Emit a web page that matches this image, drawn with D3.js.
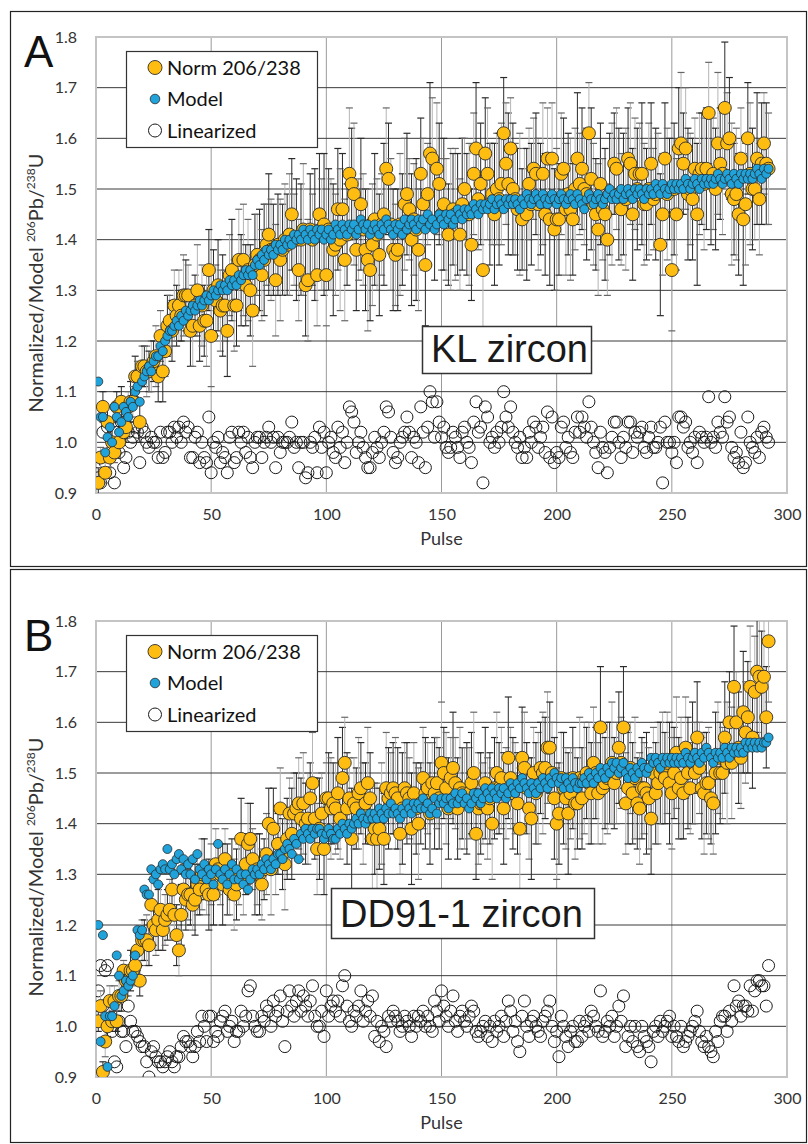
<!DOCTYPE html>
<html><head><meta charset="utf-8">
<script src="https://cdn.jsdelivr.net/npm/d3@7"></script>
<style>body{margin:0;background:#fff} svg{display:block}</style>
</head><body>
<svg id="c" width="808" height="1144"></svg>
<script>
// ---------- DATA ----------
const pulse = d3.range(1, 293); // pulse numbers 1..292
const xTicks = [0, 50, 100, 150, 200, 250, 300];
const yTicks = [0.9, 1.0, 1.1, 1.2, 1.3, 1.4, 1.5, 1.6, 1.7, 1.8];
const legendLabels = ["Norm 206/238", "Model", "Linearized"];

// Panel A: KL zircon
const klModel = [
1.12,1.05,1.05,0.98,1.01,1.03,1.00,1.07,1.05,1.02,
1.04,1.07,1.06,1.05,1.08,1.07,1.10,1.11,1.08,1.12,
1.13,1.14,1.15,1.14,1.16,1.17,1.17,1.19,1.18,1.20,
1.21,1.22,1.22,1.23,1.24,1.23,1.25,1.24,1.26,1.25,
1.26,1.27,1.26,1.27,1.28,1.27,1.28,1.29,1.28,1.29,
1.30,1.29,1.30,1.31,1.30,1.31,1.30,1.32,1.31,1.32,
1.31,1.33,1.32,1.33,1.34,1.33,1.34,1.33,1.35,1.36,
1.35,1.37,1.36,1.38,1.37,1.38,1.37,1.39,1.38,1.39,
1.38,1.40,1.39,1.40,1.39,1.41,1.40,1.41,1.40,1.42,
1.41,1.40,1.42,1.41,1.40,1.42,1.41,1.42,1.40,1.41,
1.42,1.40,1.41,1.43,1.42,1.41,1.43,1.42,1.41,1.43,
1.42,1.43,1.41,1.42,1.44,1.43,1.42,1.43,1.41,1.42,
1.43,1.42,1.41,1.43,1.42,1.44,1.43,1.42,1.41,1.43,
1.42,1.43,1.41,1.44,1.42,1.43,1.44,1.43,1.42,1.44,
1.43,1.44,1.42,1.45,1.43,1.44,1.42,1.43,1.45,1.44,
1.43,1.45,1.44,1.45,1.43,1.44,1.46,1.45,1.44,1.46,
1.45,1.46,1.45,1.47,1.46,1.45,1.47,1.46,1.47,1.46,
1.47,1.48,1.46,1.47,1.48,1.47,1.46,1.48,1.47,1.48,
1.47,1.48,1.47,1.46,1.48,1.47,1.49,1.48,1.47,1.48,
1.49,1.48,1.47,1.49,1.48,1.47,1.48,1.49,1.48,1.47,
1.48,1.49,1.48,1.47,1.48,1.49,1.48,1.47,1.49,1.48,
1.47,1.46,1.48,1.49,1.48,1.47,1.48,1.49,1.48,1.47,
1.48,1.49,1.50,1.48,1.49,1.48,1.49,1.50,1.48,1.49,
1.50,1.49,1.48,1.50,1.49,1.50,1.49,1.48,1.50,1.49,
1.50,1.49,1.51,1.50,1.49,1.51,1.50,1.49,1.50,1.51,
1.50,1.51,1.50,1.51,1.50,1.52,1.51,1.50,1.51,1.52,
1.51,1.50,1.52,1.51,1.52,1.51,1.52,1.51,1.52,1.53,
1.52,1.51,1.52,1.53,1.52,1.51,1.53,1.52,1.51,1.53,
1.52,1.53,1.52,1.53,1.52,1.53,1.54,1.53,1.52,1.54,
1.53,1.54];
const klLin = [
0.93,0.92,1.02,0.96,1.03,0.94,1.00,0.92,1.02,0.98,
1.04,0.95,0.97,1.02,1.00,1.01,1.03,1.02,0.96,1.03,
1.02,1.00,0.99,1.01,1.00,1.00,0.97,1.02,0.97,0.98,
1.02,1.02,1.00,1.03,1.01,1.03,1.00,1.04,1.02,1.03,
0.97,0.97,1.01,1.02,0.96,1.00,0.97,0.96,1.05,0.94,
1.00,0.99,1.01,0.96,0.98,0.97,0.94,1.01,1.02,0.96,
0.97,1.02,1.00,1.02,0.98,1.01,0.97,0.95,1.00,1.01,
1.01,0.97,1.00,1.01,1.03,1.00,1.01,0.95,1.01,0.98,
1.00,1.00,1.00,1.01,1.04,0.99,1.00,0.95,1.00,1.00,
0.93,0.94,1.00,0.99,1.01,0.94,1.03,0.99,1.02,0.94,
1.00,1.01,0.98,0.97,1.03,0.99,1.02,0.96,1.00,1.07,
1.06,1.04,0.98,1.00,1.02,0.99,0.97,0.95,0.95,0.98,
1.01,0.99,0.97,1.00,1.02,1.07,1.06,1.01,0.98,0.96,
0.97,1.00,1.01,1.02,1.05,1.02,0.97,1.01,1.00,0.96,
1.07,1.02,0.95,1.03,1.10,1.08,1.01,1.08,1.04,1.01,
1.03,0.99,0.98,0.99,1.02,1.01,0.99,0.97,1.02,1.03,
1.00,0.99,0.96,1.04,1.08,1.02,1.03,0.92,1.07,1.05,
1.00,1.01,0.99,1.02,1.00,1.03,1.10,1.05,1.03,1.07,
1.02,1.00,0.99,1.01,0.97,0.99,0.97,1.02,1.00,1.04,
1.03,0.99,1.01,1.03,0.98,1.06,0.97,1.05,0.96,0.98,
0.97,1.03,1.04,0.99,1.01,0.98,0.97,1.02,1.05,1.02,
1.05,1.03,1.01,1.08,1.03,1.00,0.98,0.95,1.02,0.99,
0.98,0.94,0.99,1.01,1.04,1.04,1.00,0.97,1.01,0.99,
1.04,1.04,0.98,1.02,1.01,1.02,1.03,0.99,0.98,1.01,
1.03,0.99,0.99,1.00,1.03,0.92,1.04,1.00,1.00,0.98,
1.00,0.96,1.05,1.05,1.03,1.04,0.99,1.00,0.98,1.01,
0.96,1.02,1.01,1.00,1.01,1.09,1.00,1.01,0.99,1.04,
1.02,1.01,1.09,1.04,1.05,0.99,0.97,0.98,0.96,1.02,
0.95,0.96,1.05,1.00,0.99,0.98,1.01,0.97,1.02,1.03,
1.01,1.00];
const klNorm = [
0.92,0.97,1.07,0.94,1.04,0.97,1.00,0.98,1.07,1.00,
1.08,1.02,1.03,1.07,1.08,1.08,1.13,1.13,1.04,1.15,
1.15,1.14,1.14,1.15,1.16,1.17,1.13,1.21,1.14,1.18,
1.23,1.24,1.22,1.27,1.25,1.27,1.25,1.29,1.29,1.29,
1.22,1.23,1.27,1.30,1.23,1.27,1.24,1.24,1.34,1.21,
1.30,1.28,1.31,1.26,1.27,1.27,1.22,1.33,1.34,1.27,
1.27,1.36,1.32,1.36,1.31,1.34,1.30,1.26,1.35,1.37,
1.36,1.33,1.36,1.39,1.41,1.38,1.38,1.32,1.39,1.36,
1.38,1.40,1.39,1.41,1.45,1.40,1.40,1.34,1.40,1.42,
1.31,1.32,1.42,1.40,1.41,1.33,1.45,1.41,1.43,1.33,
1.42,1.41,1.38,1.39,1.46,1.40,1.46,1.36,1.41,1.53,
1.51,1.49,1.38,1.42,1.47,1.42,1.38,1.36,1.34,1.39,
1.44,1.41,1.37,1.43,1.45,1.54,1.52,1.43,1.38,1.37,
1.38,1.43,1.42,1.47,1.49,1.46,1.40,1.44,1.42,1.38,
1.53,1.47,1.35,1.49,1.57,1.56,1.43,1.54,1.51,1.45,
1.47,1.44,1.41,1.44,1.46,1.45,1.45,1.41,1.47,1.50,
1.45,1.45,1.39,1.53,1.58,1.48,1.51,1.34,1.57,1.53,
1.47,1.49,1.45,1.50,1.48,1.51,1.61,1.55,1.51,1.58,
1.50,1.48,1.46,1.47,1.44,1.46,1.45,1.51,1.47,1.54,
1.53,1.47,1.48,1.53,1.45,1.56,1.44,1.56,1.42,1.44,
1.44,1.53,1.54,1.46,1.49,1.46,1.44,1.50,1.56,1.51,
1.54,1.50,1.49,1.61,1.52,1.47,1.45,1.42,1.51,1.46,
1.45,1.40,1.49,1.49,1.55,1.54,1.49,1.46,1.49,1.48,
1.56,1.55,1.45,1.53,1.50,1.53,1.53,1.47,1.47,1.50,
1.55,1.48,1.49,1.50,1.39,1.45,1.56,1.49,1.50,1.34,
1.50,1.45,1.58,1.59,1.55,1.58,1.49,1.50,1.48,1.54,
1.45,1.53,1.54,1.51,1.54,1.65,1.52,1.53,1.50,1.59,
1.55,1.53,1.66,1.59,1.60,1.49,1.48,1.49,1.45,1.56,
1.44,1.47,1.60,1.53,1.50,1.50,1.56,1.48,1.55,1.59,
1.55,1.54];
const klErr = [
.03,.02,.03,.02,.03,.02,.03,.02,.03,.02,
.03,.02,.03,.03,.04,.03,.04,.03,.04,.04,
.04,.05,.04,.05,.04,.06,.05,.05,.06,.05,
.06,.05,.06,.07,.06,.07,.05,.08,.07,.06,
.07,.08,.06,.09,.07,.08,.07,.09,.08,.10,
.08,.07,.09,.08,.10,.07,.09,.08,.10,.09,
.08,.10,.09,.11,.08,.10,.09,.11,.10,.08,
.10,.09,.11,.08,.12,.10,.09,.11,.10,.12,
.09,.11,.10,.12,.11,.09,.12,.10,.11,.13,
.10,.12,.11,.09,.13,.10,.12,.11,.14,.10,
.12,.11,.13,.10,.12,.14,.11,.12,.10,.13,
.11,.14,.12,.10,.13,.11,.12,.14,.10,.12,
.13,.11,.12,.10,.14,.12,.11,.13,.12,.10,
.12,.14,.11,.13,.12,.10,.13,.11,.14,.12,
.11,.13,.12,.10,.14,.12,.11,.13,.12,.11,
.13,.12,.10,.14,.11,.13,.12,.11,.13,.10,
.12,.14,.11,.12,.13,.10,.12,.14,.11,.13,
.12,.10,.14,.11,.13,.12,.11,.12,.14,.10,
.13,.11,.12,.14,.10,.12,.13,.11,.12,.10,
.12,.13,.11,.14,.12,.10,.13,.11,.12,.14,
.11,.12,.10,.13,.12,.14,.11,.12,.13,.10,
.12,.11,.13,.10,.14,.12,.11,.13,.12,.10,
.13,.11,.12,.14,.10,.12,.13,.11,.12,.14,
.10,.12,.13,.11,.12,.10,.14,.12,.11,.13,
.12,.10,.13,.11,.14,.12,.11,.13,.10,.12,
.13,.11,.12,.14,.10,.12,.13,.11,.12,.10,
.14,.12,.11,.13,.12,.10,.13,.11,.12,.14,
.11,.12,.13,.10,.12,.14,.11,.13,.12,.10,
.13,.12,.11,.14,.12,.10,.13,.11,.12,.10,
.12,.11];

// Panel B: DD91-1 zircon
const ddModel = [
1.20,0.97,1.18,1.02,0.92,1.02,1.02,1.04,1.14,1.10,
1.06,1.07,1.09,1.08,1.09,1.10,1.14,1.19,1.18,1.19,
1.27,1.26,1.26,1.31,1.29,1.30,1.28,1.31,1.32,1.31,
1.35,1.31,1.32,1.30,1.33,1.34,1.31,1.33,1.30,1.32,
1.30,1.33,1.29,1.34,1.31,1.30,1.32,1.29,1.31,1.30,
1.28,1.31,1.36,1.30,1.29,1.31,1.28,1.30,1.32,1.29,
1.31,1.29,1.30,1.28,1.30,1.27,1.29,1.31,1.30,1.31,
1.30,1.32,1.31,1.33,1.32,1.31,1.33,1.32,1.34,1.34,
1.33,1.35,1.36,1.35,1.34,1.37,1.36,1.33,1.38,1.37,
1.39,1.38,1.37,1.39,1.38,1.39,1.39,1.38,1.37,1.38,
1.39,1.38,1.37,1.37,1.39,1.38,1.40,1.39,1.38,1.40,
1.39,1.40,1.41,1.40,1.42,1.41,1.40,1.41,1.42,1.41,
1.42,1.41,1.43,1.42,1.41,1.43,1.42,1.44,1.42,1.43,
1.42,1.41,1.43,1.42,1.44,1.43,1.42,1.44,1.43,1.44,
1.43,1.45,1.43,1.44,1.42,1.43,1.45,1.42,1.44,1.45,
1.44,1.45,1.43,1.45,1.44,1.46,1.44,1.45,1.46,1.44,
1.45,1.43,1.44,1.46,1.45,1.46,1.44,1.45,1.47,1.46,
1.45,1.47,1.46,1.45,1.47,1.46,1.47,1.45,1.46,1.48,
1.47,1.46,1.48,1.47,1.49,1.48,1.47,1.46,1.48,1.47,
1.46,1.48,1.47,1.49,1.48,1.47,1.49,1.48,1.50,1.49,
1.48,1.49,1.47,1.49,1.48,1.47,1.49,1.48,1.47,1.48,
1.48,1.49,1.48,1.50,1.49,1.48,1.50,1.49,1.51,1.50,
1.49,1.51,1.50,1.52,1.51,1.52,1.50,1.51,1.52,1.50,
1.49,1.51,1.50,1.49,1.51,1.50,1.52,1.51,1.50,1.51,
1.53,1.52,1.53,1.52,1.51,1.53,1.52,1.53,1.52,1.53,
1.52,1.53,1.52,1.53,1.52,1.54,1.53,1.52,1.53,1.54,
1.53,1.52,1.54,1.53,1.55,1.54,1.53,1.52,1.54,1.53,
1.54,1.53,1.55,1.54,1.53,1.55,1.54,1.55,1.54,1.55,
1.54,1.56,1.55,1.56,1.55,1.56,1.55,1.56,1.55,1.56,
1.56,1.57];
const ddLin = [
1.07,1.12,1.04,1.11,1.12,1.01,0.99,0.93,0.92,1.01,
0.99,0.99,0.96,1.04,1.01,0.99,0.99,0.98,0.97,0.96,
0.96,0.93,0.90,0.95,0.96,0.94,0.93,0.93,0.92,0.93,
0.94,0.95,0.93,0.92,0.94,0.94,0.96,0.98,0.97,0.97,
0.96,0.94,0.96,0.99,0.97,1.02,1.00,0.97,1.02,1.02,
0.97,0.99,0.98,1.01,1.02,1.03,0.99,1.00,1.01,0.97,
0.99,0.99,1.03,1.00,1.02,1.07,1.08,1.02,1.00,0.99,
0.99,1.02,1.01,1.04,1.03,1.00,1.05,1.02,1.03,1.06,
1.01,0.96,1.03,1.07,1.04,1.02,1.05,1.07,1.03,1.06,
1.04,1.02,1.05,1.08,1.02,1.00,1.00,1.03,0.98,1.07,
1.02,1.04,1.05,1.03,1.05,1.02,1.08,1.10,1.04,1.01,
1.00,1.03,1.02,1.04,1.07,1.01,1.03,1.05,1.02,1.06,
0.98,1.01,0.97,1.00,0.99,0.96,1.02,1.01,1.03,1.02,
1.01,0.99,1.00,1.02,1.01,1.00,0.98,1.02,1.00,1.02,
1.01,1.03,1.00,1.02,1.00,0.99,1.05,1.03,1.01,1.07,
1.04,1.02,1.00,1.03,1.06,1.01,0.99,1.02,1.03,1.01,
1.00,1.02,1.04,1.03,0.99,0.98,0.99,1.00,1.01,0.98,
1.00,0.97,1.01,0.99,1.00,1.02,0.98,1.01,1.05,1.03,
0.99,1.01,0.97,0.95,1.02,1.05,1.00,0.98,1.01,1.02,
1.00,0.99,0.98,1.01,1.02,1.03,1.05,1.00,0.97,0.99,
0.94,1.02,1.00,0.98,0.96,0.99,1.00,0.97,0.97,1.01,
0.98,1.00,1.01,0.99,1.03,1.02,1.00,0.99,1.07,0.98,
0.99,1.01,1.00,1.02,0.98,1.00,1.04,1.01,1.06,0.96,
0.98,1.00,0.97,1.00,0.96,0.95,1.00,0.98,0.97,0.96,
0.93,0.99,1.00,0.98,1.01,0.99,1.00,1.01,1.02,0.98,
1.00,0.98,0.97,1.00,0.96,0.97,0.98,0.99,1.00,1.01,
1.03,0.99,0.97,0.96,0.98,0.96,0.95,0.94,0.99,0.97,
1.01,1.02,1.02,0.99,1.03,1.01,1.08,1.04,1.05,1.02,
1.04,1.04,1.03,1.08,1.03,1.07,1.09,1.09,1.08,1.08,
1.04,1.12];
const ddNorm = [
1.01,1.04,0.91,0.97,1.00,1.05,1.01,1.05,1.01,1.06,
1.06,1.11,1.09,1.09,1.11,1.11,1.12,1.15,1.09,1.17,
1.17,1.17,1.16,1.24,1.20,1.19,1.21,1.23,1.19,1.21,
1.22,1.23,1.27,1.22,1.18,1.15,1.22,1.27,1.25,1.26,
1.26,1.24,1.25,1.28,1.27,1.30,1.31,1.27,1.26,1.30,
1.26,1.32,1.31,1.30,1.28,1.33,1.29,1.27,1.31,1.26,
1.28,1.30,1.37,1.29,1.32,1.36,1.37,1.33,1.30,1.31,
1.30,1.28,1.31,1.34,1.40,1.31,1.39,1.33,1.36,1.43,
1.34,1.32,1.37,1.42,1.38,1.42,1.43,1.44,1.41,1.44,
1.40,1.41,1.45,1.48,1.41,1.35,1.39,1.42,1.35,1.45,
1.45,1.43,1.44,1.43,1.46,1.41,1.49,1.52,1.43,1.45,
1.37,1.44,1.43,1.46,1.47,1.42,1.44,1.48,1.45,1.37,
1.39,1.37,1.39,1.42,1.37,1.47,1.45,1.46,1.47,1.46,
1.45,1.38,1.43,1.47,1.46,1.45,1.39,1.46,1.43,1.40,
1.44,1.49,1.46,1.47,1.42,1.48,1.46,1.48,1.45,1.52,
1.50,1.47,1.43,1.49,1.51,1.48,1.43,1.47,1.46,1.45,
1.45,1.46,1.48,1.50,1.38,1.43,1.44,1.44,1.48,1.43,
1.45,1.40,1.47,1.50,1.47,1.49,1.43,1.46,1.53,1.49,
1.46,1.47,1.44,1.39,1.53,1.51,1.47,1.43,1.41,1.50,
1.46,1.47,1.51,1.50,1.51,1.55,1.55,1.50,1.45,1.40,
1.42,1.49,1.47,1.45,1.42,1.46,1.49,1.44,1.44,1.49,
1.45,1.49,1.50,1.48,1.46,1.52,1.50,1.46,1.59,1.47,
1.48,1.49,1.50,1.52,1.48,1.50,1.55,1.52,1.59,1.44,
1.47,1.51,1.46,1.49,1.44,1.43,1.47,1.47,1.46,1.45,
1.41,1.50,1.46,1.48,1.50,1.51,1.49,1.52,1.48,1.46,
1.50,1.54,1.47,1.49,1.46,1.55,1.50,1.47,1.52,1.50,
1.57,1.51,1.47,1.46,1.48,1.48,1.45,1.44,1.50,1.53,
1.50,1.50,1.57,1.52,1.60,1.52,1.67,1.60,1.55,1.53,
1.62,1.58,1.61,1.67,1.57,1.66,1.70,1.69,1.67,1.69,
1.61,1.76];
const ddErr = [
.02,.03,.02,.03,.02,.03,.02,.03,.02,.03,
.03,.02,.03,.03,.04,.03,.03,.04,.03,.04,
.04,.05,.04,.05,.04,.05,.06,.05,.04,.05,
.05,.06,.04,.05,.06,.05,.06,.05,.06,.05,
.06,.05,.07,.06,.05,.07,.06,.05,.07,.06,
.06,.07,.05,.06,.08,.06,.07,.05,.06,.07,
.07,.06,.08,.07,.06,.08,.07,.06,.08,.07,
.08,.07,.06,.08,.07,.09,.08,.07,.06,.08,
.07,.09,.08,.07,.09,.08,.07,.09,.08,.10,
.08,.09,.07,.10,.08,.09,.10,.08,.09,.07,
.09,.10,.08,.09,.11,.08,.10,.09,.11,.08,
.10,.09,.08,.11,.09,.10,.08,.11,.09,.10,
.09,.11,.08,.10,.09,.11,.10,.08,.09,.11,
.10,.08,.11,.09,.10,.08,.11,.10,.09,.11,
.08,.10,.11,.09,.10,.08,.11,.09,.10,.12,
.09,.11,.10,.08,.11,.09,.10,.12,.09,.10,
.11,.09,.10,.12,.09,.11,.10,.08,.11,.10,
.09,.11,.10,.12,.09,.10,.11,.09,.12,.10,
.11,.09,.10,.12,.10,.11,.09,.10,.12,.09,
.10,.11,.09,.12,.10,.11,.09,.10,.12,.11,
.10,.09,.11,.10,.12,.09,.10,.11,.09,.12,
.10,.11,.09,.12,.10,.11,.09,.10,.12,.11,
.09,.11,.10,.12,.09,.10,.11,.09,.12,.10,
.11,.09,.10,.12,.09,.11,.10,.09,.12,.10,
.11,.09,.10,.12,.10,.11,.09,.10,.12,.11,
.09,.11,.10,.12,.09,.10,.11,.09,.12,.10,
.11,.09,.10,.12,.10,.11,.09,.10,.12,.11,
.10,.09,.11,.12,.10,.11,.12,.10,.11,.10,
.12,.10,.11,.12,.10,.11,.12,.13,.11,.12,
.10,.12];

// ---------- DRAW ----------
const svg = d3.select("#c");
const ORANGE = "#FFBD12", BLUE = "#1FA3DA", EDGE = "#2b2b2b";
const fontUI = "Lato, 'Open Sans', sans-serif";
const fontArial = "'Liberation Sans', Arial, sans-serif";

const panels = [
  {id:"A", top:11.5, h:555, off:0, norm:klNorm, model:klModel, lin:klLin, err:klErr,
   box:{x:422, y:326, w:169, h:47, label:"KL zircon"}},
  {id:"B", top:569.5, h:573, off:584, norm:ddNorm, model:ddModel, lin:ddLin, err:ddErr,
   box:{x:331, y:888, w:263, h:50, label:"DD91-1 zircon"}}
];

panels.forEach((p, pi) => {
  const g = svg.append("g");
  // panel frame
  g.append("rect").attr("x", 10.5).attr("y", p.top).attr("width", 796).attr("height", p.h)
    .attr("fill", "#fff").attr("stroke", "#222").attr("stroke-width", 1.2);

  const x = d3.scaleLinear().domain([0, 300]).range([96, 787]);
  const y = d3.scaleLinear().domain([0.9, 1.8]).range([493 + p.off, 37 + p.off]);
  const [x0, x1] = x.range();
  const [yb, yt] = y.range();

  const clipId = "clip" + p.id;
  svg.append("clipPath").attr("id", clipId).append("rect")
    .attr("x", x0).attr("y", yt).attr("width", x1 - x0).attr("height", yb - yt);

  // vertical gridlines
  g.append("g").selectAll("line").data(xTicks.slice(1, -1)).join("line")
    .attr("x1", d => x(d)).attr("x2", d => x(d)).attr("y1", yt).attr("y2", yb)
    .attr("stroke", "#9a9a9a").attr("stroke-width", 1);
  // horizontal gridlines
  g.append("g").selectAll("line").data(yTicks.slice(1, -1)).join("line")
    .attr("x1", x0).attr("x2", x1).attr("y1", d => y(d)).attr("y2", d => y(d))
    .attr("stroke", "#3a3a3a").attr("stroke-width", 1);
  // plot border
  g.append("rect").attr("x", x0).attr("y", yt).attr("width", x1 - x0).attr("height", yb - yt)
    .attr("fill", "none").attr("stroke", "#c4c4c4").attr("stroke-width", 2);

  // axes
  const yAxis = d3.axisLeft(y).tickValues(yTicks).tickFormat(d3.format(".1f")).tickSize(0).tickPadding(19);
  const ya = g.append("g").attr("transform", `translate(${x0},0)`).call(yAxis);
  ya.select(".domain").remove();
  ya.selectAll("text").attr("font-family", fontUI).attr("font-size", 16).attr("fill", "#333");

  const xAxis = d3.axisBottom(x).tickValues(xTicks).tickSize(0).tickPadding(16);
  const xa = g.append("g").attr("transform", `translate(0,${yb})`).call(xAxis);
  xa.select(".domain").remove();
  xa.selectAll("text").attr("font-family", fontUI).attr("font-size", 16).attr("fill", "#333");

  g.append("text").attr("x", (x0 + x1) / 2).attr("y", yb + 52).attr("text-anchor", "middle")
    .attr("font-family", fontUI).attr("font-size", 18).attr("fill", "#333").text("Pulse");

  // y title
  const yt2 = g.append("text").attr("transform", `translate(43,${283 + p.off}) rotate(-90)`)
    .attr("text-anchor", "middle").attr("font-family", fontUI).attr("font-size", 20).attr("fill", "#333");
  yt2.append("tspan").text("Normalized/Model ");
  yt2.append("tspan").attr("font-size", 12).attr("dy", -8).text("206");
  yt2.append("tspan").attr("dy", 8).text("Pb/");
  yt2.append("tspan").attr("font-size", 12).attr("dy", -8).text("238");
  yt2.append("tspan").attr("dy", 8).text("U");

  // panel letter
  g.append("text").attr("x", 24).attr("y", 67 + p.off).attr("font-family", fontArial)
    .attr("font-size", 44).attr("fill", "#111").text(p.id);

  const plot = g.append("g").attr("clip-path", `url(#${clipId})`);

  // linearized (open circles)
  plot.append("g").selectAll("circle").data(pulse).join("circle")
    .attr("cx", (d) => x(d)).attr("cy", (d, i) => y(p.lin[i])).attr("r", 6)
    .attr("fill", "none").attr("stroke", "#1a1a1a").attr("stroke-width", 1);

  // error bars
  const eb = plot.append("g");
  pulse.forEach((d, i) => {
    const v = p.norm[i], e = p.err[i];
    const col = i % 2 === 0 ? "#2a2a2a" : "#b5b5b5";
    const capCol = i % 2 === 0 ? "#2a2a2a" : "#666";
    eb.append("line").attr("x1", x(d)).attr("x2", x(d)).attr("y1", y(v - e)).attr("y2", y(v + e))
      .attr("stroke", col).attr("stroke-width", 1);
    [v - e, v + e].forEach(c => eb.append("line").attr("x1", x(d) - 3.5).attr("x2", x(d) + 3.5)
      .attr("y1", y(c)).attr("y2", y(c)).attr("stroke", capCol).attr("stroke-width", 1.2));
  });

  // norm points
  plot.append("g").selectAll("circle").data(pulse).join("circle")
    .attr("cx", d => x(d)).attr("cy", (d, i) => y(p.norm[i])).attr("r", 6.5)
    .attr("fill", ORANGE).attr("stroke", EDGE).attr("stroke-width", 0.9);

  // model points
  plot.append("g").selectAll("circle").data(pulse).join("circle")
    .attr("cx", d => x(d)).attr("cy", (d, i) => y(p.model[i])).attr("r", 4.5)
    .attr("fill", BLUE).attr("stroke", EDGE).attr("stroke-width", 0.8);

  // legend
  const lg = g.append("g").attr("transform", `translate(0,${p.off})`);
  lg.append("rect").attr("x", 126.5).attr("y", 51.5).attr("width", 191).attr("height", 96)
    .attr("fill", "#fff").attr("stroke", "#333").attr("stroke-width", 1.2);
  const ly = [67.5, 99, 130.5];
  lg.append("circle").attr("cx", 155).attr("cy", ly[0]).attr("r", 7).attr("fill", ORANGE).attr("stroke", EDGE).attr("stroke-width", 0.9);
  lg.append("circle").attr("cx", 155).attr("cy", ly[1]).attr("r", 4.8).attr("fill", BLUE).attr("stroke", EDGE).attr("stroke-width", 0.8);
  lg.append("circle").attr("cx", 155).attr("cy", ly[2]).attr("r", 6.5).attr("fill", "#fff").attr("stroke", "#1a1a1a").attr("stroke-width", 1);
  lg.selectAll("text.lt").data(legendLabels).join("text").attr("class", "lt")
    .attr("x", 167).attr("y", (d, i) => ly[i] + 7).attr("font-family", fontUI)
    .attr("font-size", 20).attr("fill", "#111").text(d => d);

  // sample label box
  const b = p.box;
  g.append("rect").attr("x", b.x + 0.5).attr("y", b.y + 0.5).attr("width", b.w).attr("height", b.h)
    .attr("fill", "#fff").attr("stroke", "#333").attr("stroke-width", 1.5);
  g.append("text").attr("x", b.x + 9).attr("y", b.y + b.h - 11).attr("font-family", fontArial)
    .attr("font-size", 38).attr("fill", "#1a1a1a").text(b.label);
});
</script>
</body></html>
